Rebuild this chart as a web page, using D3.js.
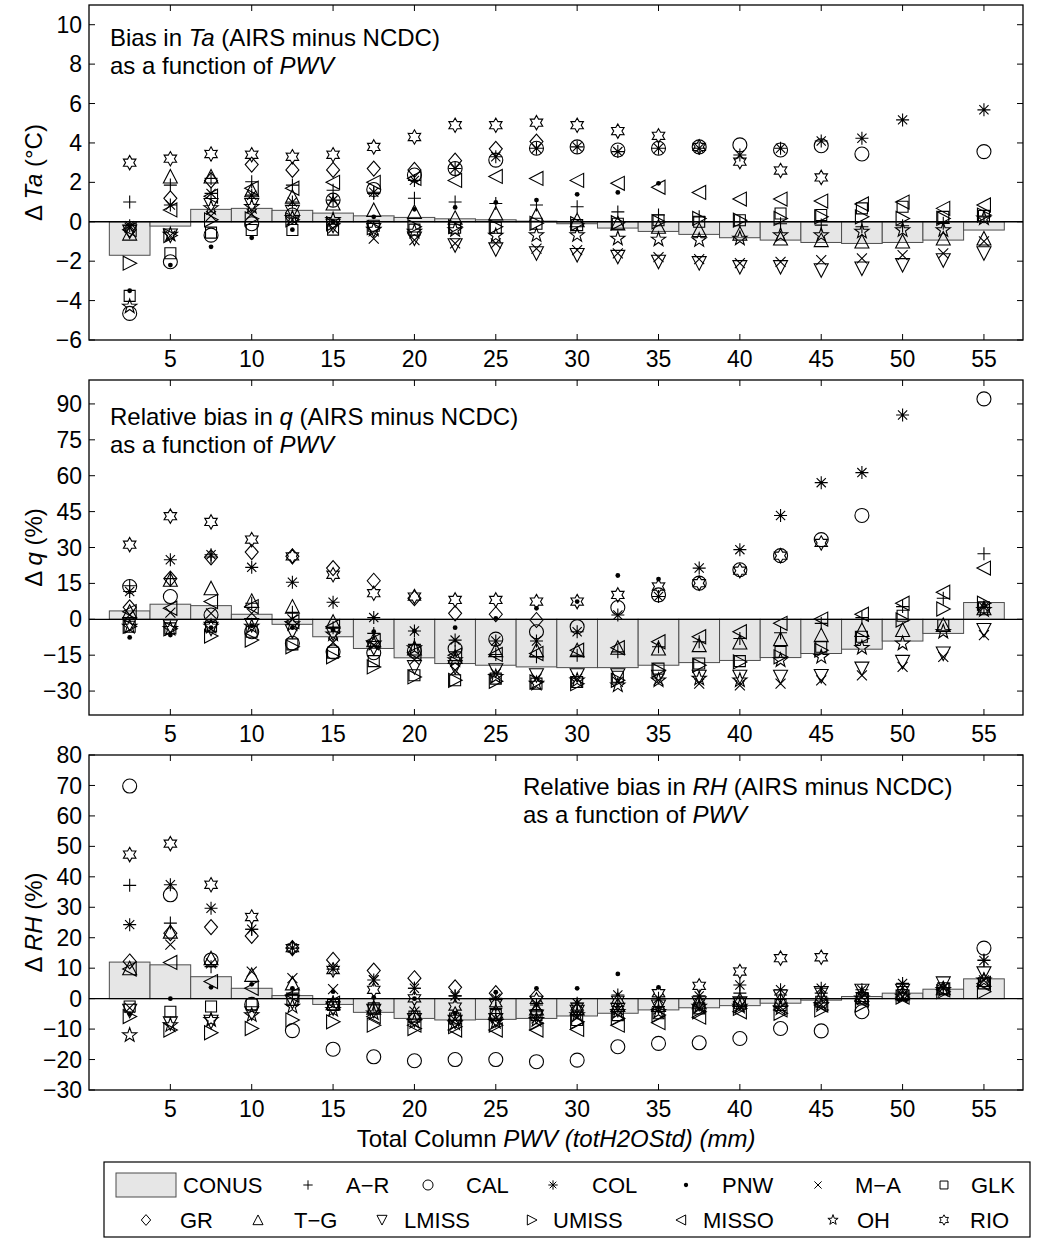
<!DOCTYPE html>
<html><head><meta charset="utf-8">
<script src="https://cdn.jsdelivr.net/npm/d3@7"></script>
<style>
body{margin:0;background:#fff}
svg{display:block}
text{font-family:"Liberation Sans",Arial,Helvetica,sans-serif;fill:#000}
</style>
</head><body>
<svg id="chart" width="1037" height="1239"></svg>
<script>
// ---------- categories / ticks ----------
const bins = [2.5,5,7.5,10,12.5,15,17.5,20,22.5,25,27.5,30,32.5,35,37.5,40,42.5,45,47.5,50,52.5,55];
const xTicks = [5,10,15,20,25,30,35,40,45,50,55];
const taTicks = [-6,-4,-2,0,2,4,6,8,10];
const qTicks = [-30,-15,0,15,30,45,60,75,90];
const rhTicks = [-30,-20,-10,0,10,20,30,40,50,60,70,80];

const seriesKeys   = ['AR','CAL','COL','PNW','MA','GLK','GR','TG','LMISS','UMISS','MISSO','OH','RIO'];
const seriesLabels = ['A\u2212R','CAL','COL','PNW','M\u2212A','GLK','GR','T\u2212G','LMISS','UMISS','MISSO','OH','RIO'];
const seriesShapes = ['plus','circle','asterisk','dot','cross','square','diamond','triUp','triDown','triRight','triLeft','pentagram','hexagram'];

// ---------- Panel 1: bias in Ta (degC) ----------
const taCONUS = [-1.7,-0.22,0.63,0.68,0.58,0.44,0.3,0.22,0.15,0.1,0.03,-0.1,-0.32,-0.49,-0.64,-0.81,-0.93,-1.05,-1.1,-1.05,-0.93,-0.42];
const taAR    = [1.0,1.86,2.2,2.03,1.86,1.6,1.44,1.19,1.0,0.93,0.85,0.76,0.5,0.34,0.25,0.0,-0.1,-0.17,-0.25,-0.2,-0.08,0.25];
const taCAL   = [-4.65,-2.03,-0.68,-0.1,0.34,1.1,1.64,2.37,2.7,3.13,3.73,3.8,3.64,3.73,3.8,3.9,3.64,3.86,3.44,null,null,3.56];
const taCOL   = [-0.2,0.85,1.44,1.35,1.0,1.1,1.5,2.1,2.7,3.3,3.73,3.8,3.56,3.73,3.73,3.39,3.73,4.1,4.24,5.17,null,5.68];
const taPNW   = [-3.5,-2.2,-1.27,-0.81,-0.4,0.0,0.25,0.63,0.73,0.98,1.1,1.39,1.49,1.95,null,null,null,null,null,null,null,null];
const taMA    = [-0.3,-0.7,0.3,0.4,0.1,-0.34,-0.85,-0.93,-1.1,-1.1,-1.36,-1.44,-1.6,-1.8,-1.9,-2.1,-2.03,-1.95,-1.86,-1.69,-1.6,-1.0];
const taGLK   = [-3.76,-1.6,-0.55,-0.42,-0.42,-0.4,-0.2,-0.4,-0.3,-0.3,-0.1,-0.17,-0.1,0.08,0.0,0.08,0.42,0.34,0.68,0.76,0.25,0.3];
const taGR    = [-0.4,1.19,2.1,2.9,2.63,2.63,2.7,2.63,3.1,3.7,4.07,null,null,null,null,null,null,null,null,null,null,null];
const taTG    = [-0.6,2.3,2.3,1.6,1.27,0.93,0.6,0.5,0.2,0.42,0.34,0.08,-0.08,-0.25,-0.42,-0.6,-0.85,-0.93,-1.0,-1.0,-0.85,-0.85];
const taLMISS = [-0.5,-0.7,0.85,0.85,0.5,-0.2,-0.42,-0.85,-1.19,-1.4,-1.6,-1.69,-1.78,-2.03,-2.1,-2.3,-2.3,-2.46,-2.37,-2.2,-1.95,-1.6];
const taUMISS = [-2.1,-0.7,0.1,0.15,0.1,-0.1,-0.3,-0.25,-0.25,-0.25,-0.08,-0.1,-0.05,0.0,0.17,0.08,0.17,0.25,0.25,0.17,0.17,0.34];
const taMISSO = [-0.4,0.6,1.3,1.7,1.7,2.0,2.0,2.2,2.1,2.3,2.2,2.1,1.95,1.75,1.49,1.15,1.15,1.05,0.9,1.0,0.68,0.85];
const taOH    = [-4.3,-0.65,0.7,0.76,0.2,0.1,-0.4,-0.5,-0.42,-0.7,-0.68,-0.68,-0.85,-0.9,-0.93,-0.85,-0.68,-0.68,-0.5,-0.42,-0.42,0.17];
const taRIO   = [3.0,3.2,3.44,3.4,3.3,3.4,3.8,4.3,4.9,4.9,5.03,4.9,4.6,4.36,3.8,3.05,2.6,2.25,null,null,null,null];

// ---------- Panel 2: relative bias in q (%) ----------
const qCONUS = [3.5,6.3,5.7,2.1,-2.1,-7.3,-12.2,-16.1,-18.5,-19.2,-19.9,-20.2,-20.2,-19.2,-18.1,-17.2,-16.0,-14.3,-12.5,-9.1,-5.9,7.0];
const qAR    = [14,17,26,6.7,2.9,-3.5,-5.9,-10.5,-13.6,-14.7,-15.7,-15,-13.6,-11.5,-9.4,-8,-5.6,-1.7,0.7,5.3,8.8,27.4];
const qCAL   = [13.7,9.5,1.8,-5.2,-10,-13.6,-14,-13.3,-12.2,-8.3,-5.2,-3.1,4.9,10.2,15.1,20.7,26.6,33.3,43.4,null,null,92.1];
const qCOL   = [11.6,24.9,27,21.7,15.5,7.1,0.7,-4.9,-8.7,-9.1,-9.1,-5.2,1.8,9.5,21.4,29.1,43.4,57.1,61.3,85.4,null,5];
const qPNW   = [-7.6,-6.6,-3.5,-2.7,-3.5,-4.5,-5.2,-4.9,-3.5,0.4,4.6,7.4,18.3,16.8,null,null,null,null,null,null,null,null];
const qMA    = [1.8,2.8,2.5,2.5,0,-9.7,-10.8,-17,-21.3,-22.7,-24.8,-24.8,-26.2,-25.5,-26.9,-27.6,-26.9,-25.5,-23.4,-19.9,-15.7,-6.6];
const qGLK   = [-3.1,-3.8,-3,-5.2,-10.5,-14,-17.5,-23.4,-25.5,-24.8,-26.9,-26.2,-24,-20.6,-18.5,-17.5,-13.6,-11.5,-7.3,1.5,-2.5,5];
const qGR    = [5,17,25.9,28.1,26.3,21.4,16.1,8.8,2.5,2.1,-0.3,null,null,null,null,null,null,null,null,null,null,null];
const qTG    = [3.2,16.5,13,7.7,5.3,-1,-8.7,-12.2,-15.7,-12.9,-12.9,-12.9,-11.9,-12.2,-10.8,-9.7,-8.3,-6.6,-4.5,-4.5,-2.4,4.6];
const qLMISS = [-2,-3,-4,-2.4,-5,-6,-12,-20,-20,-21.3,-23.4,-23.4,-23.4,-24,-24,-24,-24,-23.7,-20.6,-17.8,-14.3,-4.5];
const qUMISS = [-3,-4,-7,-8.7,-11.5,-15.7,-19.9,-24.1,-25.5,-25.9,-26.2,-26.9,-25.5,-21.3,-19.2,-17.8,-15.7,-12.9,-8,-0.3,4.3,6.7];
const qMISSO = [3.2,4.6,7.4,5.3,-1,-3,-9,-14,-15,-14.7,-14.3,-12.9,-11.9,-9.4,-7.3,-5.2,-1.7,0.1,2.1,6.7,11.3,21.4];
const qOH    = [-3.1,-4,-3,-3,-2,-6.3,-10,-12,-17,-24,-26.9,-25.5,-27.6,-25.5,-24.8,-25.5,-17.1,-15.7,-11.9,-10.1,-5.2,3.9];
const qRIO   = [31.2,43.1,40.7,33.3,26.3,18.6,10.9,9.5,8.1,8.1,7.4,7.4,10.2,13.7,15.1,20.3,26.6,31.9,null,null,null,null];

// ---------- Panel 3: relative bias in RH (%) ----------
const rhCONUS = [12.0,11.1,7.2,3.4,1.0,-1.9,-4.5,-6.5,-7.0,-6.8,-6.5,-5.7,-4.8,-3.7,-3.0,-2.3,-1.5,-0.5,0.7,1.8,3.1,6.5];
const rhAR    = [37.2,24.8,10.5,22.8,1.8,-1.0,-2.1,3.4,0.9,-3.2,-4.3,-4.3,-2.6,-2.6,-2.1,1.8,1.2,1.8,2.0,4.0,3.4,12.7];
const rhCAL   = [69.8,34.1,12.7,-1.9,-10.5,-16.6,-19.1,-20.4,-20,-20,-20.7,-20.2,-15.8,-14.7,-14.5,-13.1,-9.8,-10.6,-4.3,null,null,16.6];
const rhCOL   = [24.3,37.4,29.7,22.8,16.6,9.7,6.1,3.4,0.9,0.1,-2.1,-1.5,1.2,0.1,0.9,4.5,2.9,3.4,2.9,5.0,null,12.5];
const rhPNW   = [-5.0,0,3.7,4.7,3.4,2.3,0.4,0,-4.8,2.1,3.4,3.4,8.1,3.7,null,null,null,null,null,null,null,null];
const rhMA    = [-3,17.7,11.6,8.9,6.7,3.1,6.1,-4.3,-7,-6.5,-6.5,-5.9,-3.7,-3.5,-3,-2.6,-2.8,-2,0.5,0.7,3.5,6];
const rhGLK   = [-2.6,-4.3,-2.6,-1.9,-0.4,-2.1,-3.2,-5.9,-6.5,-5.4,-5.4,-7,-5.4,-4.8,-3.2,-1.5,-2.1,-1.0,0.1,1.2,3.4,5];
const rhGR    = [12.2,21.5,23.5,20.6,16.6,12.7,9.2,6.7,3.7,1.8,0.7,null,null,null,null,null,null,null,null,null,null,null];
const rhTG    = [10,22,13.3,7.8,5.0,-1.5,-3,-4.8,-5,-4.3,-3.2,-3.2,-2.1,-2.1,-1.2,-0.4,-0.4,0.7,1.2,1.8,3.4,6.1];
const rhLMISS = [-4,-8.1,-7.6,-4.8,-1,-3.2,-4,-7,-7.6,-7,-5.9,-4.3,-3.7,-2.6,-1.5,-1.5,0.7,1.8,2.6,2.6,5,8.3];
const rhUMISS = [-5.9,-10.3,-11.2,-9.8,-7,-7.6,-8.7,-9.8,-9.2,-8.7,-8.1,-7.6,-6.5,-5.4,-4.3,-3.2,-4.8,-3.7,-2.1,0.5,2.3,2.3];
const rhMISSO = [9.7,11.9,5.6,3.4,1.2,-1.5,-5.9,-8.7,-10.3,-10.3,-10.3,-10.1,-8.7,-7.9,-6.1,-4.3,-3.7,-2.1,-0.5,0.5,2.9,5];
const rhOH    = [-12,-8.7,-7,-5.4,-2.6,-3.7,-4.8,-7.6,-8.1,-7.6,-7,-5.4,-4.3,-4.3,-2.6,-2.6,-3.2,-2.1,0.1,0.7,2.9,6];
const rhRIO   = [47.3,50.9,37.4,26.8,16.6,9.4,2.9,0.1,-2.6,-1.5,-0.4,-2.6,-0.4,1.8,4.2,8.9,13.3,13.6,null,null,null,null];

// ---------- layout ----------
const svg = d3.select('#chart');
const X0 = 89, X1 = 1023;
const x = d3.scaleLinear().domain([0, 57.4]).range([X0, X1]);
const binW = 2.5;
const TICKFONT = 23;
const LABFONT = 24;
const LEGFONT = 22;

const panels = [
  {top:5, bottom:340, domain:[-6,11], ticks:taTicks,
   conus:taCONUS,
   data:[taAR,taCAL,taCOL,taPNW,taMA,taGLK,taGR,taTG,taLMISS,taUMISS,taMISSO,taOH,taRIO],
   ylab:[['\u0394 ',false],['Ta',true],[' (\u00B0C)',false]],
   note:{x:110, y:46, lines:[[['Bias in ',false],['Ta',true],[' (AIRS minus NCDC)',false]],[['as a function of ',false],['PWV',true]]]}},
  {top:380, bottom:715, domain:[-40,100], ticks:qTicks,
   conus:qCONUS,
   data:[qAR,qCAL,qCOL,qPNW,qMA,qGLK,qGR,qTG,qLMISS,qUMISS,qMISSO,qOH,qRIO],
   ylab:[['\u0394 ',false],['q',true],[' (%)',false]],
   note:{x:110, y:425, lines:[[['Relative bias in ',false],['q',true],[' (AIRS minus NCDC)',false]],[['as a function of ',false],['PWV',true]]]}},
  {top:755, bottom:1090, domain:[-30,80], ticks:rhTicks,
   conus:rhCONUS,
   data:[rhAR,rhCAL,rhCOL,rhPNW,rhMA,rhGLK,rhGR,rhTG,rhLMISS,rhUMISS,rhMISSO,rhOH,rhRIO],
   ylab:[['\u0394 ',false],['RH',true],[' (%)',false]],
   note:{x:523, y:795, lines:[[['Relative bias in ',false],['RH',true],[' (AIRS minus NCDC)',false]],[['as a function of ',false],['PWV',true]]]}}
];

function shapePath(shape, k){
  const p = d3.path();
  const poly = pts => { p.moveTo(pts[0][0]*k, pts[0][1]*k); for (let i=1;i<pts.length;i++) p.lineTo(pts[i][0]*k, pts[i][1]*k); p.closePath(); };
  const star = (n, ro, ri) => {
    const pts = [];
    for (let i=0;i<2*n;i++){
      const a = -Math.PI/2 + i*Math.PI/n;
      const r = i%2===0 ? ro : ri;
      pts.push([r*Math.cos(a), r*Math.sin(a)]);
    }
    poly(pts);
  };
  switch(shape){
    case 'plus': p.moveTo(-6.5*k,0); p.lineTo(6.5*k,0); p.moveTo(0,-6.5*k); p.lineTo(0,6.5*k); break;
    case 'cross': { const c=5*k; p.moveTo(-c,-c); p.lineTo(c,c); p.moveTo(-c,c); p.lineTo(c,-c); break; }
    case 'asterisk': { const r=6.5*k, c=4.6*k; p.moveTo(-r,0); p.lineTo(r,0); p.moveTo(0,-r); p.lineTo(0,r);
      p.moveTo(-c,-c); p.lineTo(c,c); p.moveTo(-c,c); p.lineTo(c,-c); break; }
    case 'circle': p.moveTo(7*k,0); p.arc(0,0,7*k,0,2*Math.PI); p.closePath(); break;
    case 'dot': p.moveTo(2.4*k,0); p.arc(0,0,2.4*k,0,2*Math.PI); p.closePath(); break;
    case 'square': poly([[-5.5,-5.5],[5.5,-5.5],[5.5,5.5],[-5.5,5.5]]); break;
    case 'diamond': poly([[0,-7.5],[6.5,0],[0,7.5],[-6.5,0]]); break;
    case 'triUp': poly([[0,-7],[7,6.5],[-7,6.5]]); break;
    case 'triDown': poly([[0,7],[7,-6.5],[-7,-6.5]]); break;
    case 'triRight': poly([[7,0],[-6.5,-7],[-6.5,7]]); break;
    case 'triLeft': poly([[-7,0],[6.5,-7],[6.5,7]]); break;
    case 'pentagram': star(5, 7.5, 3.0); break;
    case 'hexagram': star(6, 7.2, 4.1); break;
  }
  return p.toString();
}

function richText(g, x0, y0, parts, size, anchor){
  const t = g.append('text').attr('x', x0).attr('y', y0).attr('font-size', size)
    .attr('text-anchor', anchor || 'start');
  parts.forEach(([s, it]) => t.append('tspan').attr('font-style', it ? 'italic' : 'normal').text(s));
  return t;
}

panels.forEach((P) => {
  const y = d3.scaleLinear().domain(P.domain).range([P.bottom, P.top]);
  const g = svg.append('g');

  // CONUS bars
  g.selectAll('rect.bar').data(bins.map((b,i)=>({b, v:P.conus[i]}))).enter().append('rect')
    .attr('x', d => x(d.b - binW/2))
    .attr('width', d => x(d.b + binW/2) - x(d.b - binW/2))
    .attr('y', d => Math.min(y(0), y(d.v)))
    .attr('height', d => Math.abs(y(d.v) - y(0)))
    .attr('fill', '#e6e6e6').attr('stroke', '#4d4d4d').attr('stroke-width', 1);

  // zero line
  g.append('line').attr('x1', X0).attr('x2', X1).attr('y1', y(0)).attr('y2', y(0))
    .attr('stroke', '#000').attr('stroke-width', 1.3);

  // markers
  seriesKeys.forEach((key, si) => {
    const vals = P.data[si];
    const shape = seriesShapes[si];
    const pts = bins.map((b,i)=>({b, v:vals[i]})).filter(d => d.v !== null && d.v !== undefined);
    g.selectAll('path.m' + key).data(pts).enter().append('path')
      .attr('d', shapePath(shape, 1))
      .attr('transform', d => `translate(${x(d.b)},${y(d.v)})`)
      .attr('fill', shape === 'dot' ? '#000' : 'none')
      .attr('stroke', '#000').attr('stroke-width', shape === 'dot' ? 0 : 1.1);
  });

  // frame
  g.append('rect').attr('x', X0).attr('y', P.top).attr('width', X1 - X0).attr('height', P.bottom - P.top)
    .attr('fill', 'none').attr('stroke', '#000').attr('stroke-width', 1.3);

  // x ticks (bottom and top, inward)
  const tl = 6;
  xTicks.forEach(t => {
    g.append('line').attr('x1', x(t)).attr('x2', x(t)).attr('y1', P.bottom).attr('y2', P.bottom - tl).attr('stroke','#000');
    g.append('line').attr('x1', x(t)).attr('x2', x(t)).attr('y1', P.top).attr('y2', P.top + tl).attr('stroke','#000');
    g.append('text').attr('x', x(t)).attr('y', P.bottom + 19).attr('dy', '0.35em')
      .attr('text-anchor', 'middle').attr('font-size', TICKFONT).text(t);
  });
  // y ticks (left and right, inward)
  P.ticks.forEach(t => {
    g.append('line').attr('x1', X0).attr('x2', X0 + tl).attr('y1', y(t)).attr('y2', y(t)).attr('stroke','#000');
    g.append('line').attr('x1', X1).attr('x2', X1 - tl).attr('y1', y(t)).attr('y2', y(t)).attr('stroke','#000');
    g.append('text').attr('x', X0 - 7).attr('y', y(t)).attr('dy', '0.35em')
      .attr('text-anchor', 'end').attr('font-size', TICKFONT).text(t < 0 ? '\u2212' + Math.abs(t) : t);
  });

  // y-axis title
  const cy = (P.top + P.bottom) / 2;
  const yt = g.append('text').attr('transform', `translate(42,${cy}) rotate(-90)`)
    .attr('text-anchor', 'middle').attr('font-size', LABFONT);
  P.ylab.forEach(([s,it]) => yt.append('tspan').attr('font-style', it ? 'italic' : 'normal').text(s));

  // annotation
  P.note.lines.forEach((ln, li) => richText(g, P.note.x, P.note.y + li * 28, ln, LABFONT));
});

// x-axis title
richText(svg, (X0 + X1) / 2, 1147, [['Total Column ', false], ['PWV (totH2OStd) (mm)', true]], LABFONT, 'middle');

// ---------- legend ----------
const L = svg.append('g');
L.append('rect').attr('x', 104).attr('y', 1162).attr('width', 926).attr('height', 75)
  .attr('fill', '#fff').attr('stroke', '#000').attr('stroke-width', 1.2);
const row1 = 1185, row2 = 1220;
L.append('rect').attr('x', 116).attr('y', row1 - 12).attr('width', 60).attr('height', 24)
  .attr('fill', '#e6e6e6').attr('stroke', '#4d4d4d').attr('stroke-width', 1);
L.append('text').attr('x', 183).attr('y', row1).attr('dy', '0.35em').attr('font-size', LEGFONT).text('CONUS');
const legendPos = [
  [308,346,row1],[428,466,row1],[553,592,row1],[686,722,row1],[818,855,row1],[944,971,row1],
  [146,180,row2],[258,294,row2],[382,404,row2],[532,553,row2],[681,703,row2],[833,857,row2],[944,970,row2]
];
seriesKeys.forEach((key, si) => {
  const [mx, tx, ry] = legendPos[si];
  const shape = seriesShapes[si];
  L.append('path').attr('d', shapePath(shape, shape === 'dot' ? 0.9 : 0.72))
    .attr('transform', `translate(${mx},${ry})`)
    .attr('fill', shape === 'dot' ? '#000' : 'none')
    .attr('stroke', '#000').attr('stroke-width', shape === 'dot' ? 0 : 1);
  L.append('text').attr('x', tx).attr('y', ry).attr('dy', '0.35em').attr('font-size', LEGFONT).text(seriesLabels[si]);
});
</script>
</body></html>
